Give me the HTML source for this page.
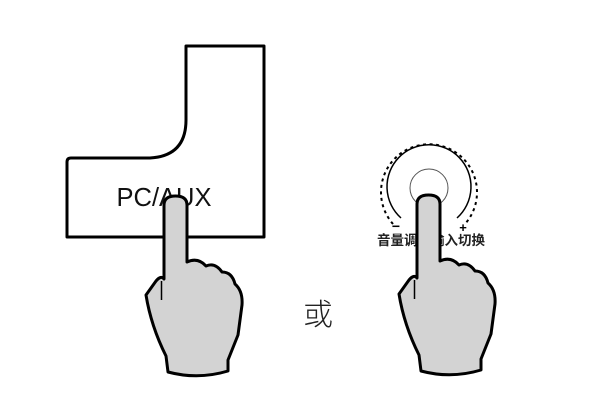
<!DOCTYPE html>
<html><head><meta charset="utf-8"><style>
html,body{margin:0;padding:0;background:#fff;width:600px;height:418px;overflow:hidden}
</style></head><body>
<svg width="600" height="418" viewBox="0 0 600 418" xmlns="http://www.w3.org/2000/svg">
<defs>
<g id="hand">
<path d="M164,205 Q164,196 175.5,196 Q187,196 187,205 L187,262 Q198,257 206,266 Q215,262 222,272 Q232,272 235,284 Q243,291 242,305 L238,335 Q232,350 228,360 L228,371 Q198,380 168,372 L166,356 Q151,326 146,295 L156,281 Q161,275 164,279 Z" fill="#d3d3d3" stroke="#000" stroke-width="3" stroke-linejoin="round"/>
<path d="M161.5,281 L161.5,300" stroke="#000" stroke-width="1.5"/>
</g>
</defs>
<path d="M186,46 L264,46 L264,237 L67,237 L67,162 Q67,158 71,158 L150,158 Q186,156 186,120 Z" fill="#fff" stroke="#000" stroke-width="3" stroke-linejoin="round"/>
<text x="164" y="206" font-family="Liberation Sans, sans-serif" font-size="25.5" text-anchor="middle" fill="#111">PC/AUX</text>
<use href="#hand"/>
<text x="318" y="325" font-family="Liberation Sans, 'Noto Sans CJK SC', sans-serif" font-size="30" font-weight="300" text-anchor="middle" fill="#222">或</text>
<path d="M401,218 A42,42 0 1 1 457,218" fill="none" stroke="#000" stroke-width="1.5"/>
<path d="M393,224 A48,48 0 1 1 465,224" fill="none" stroke="#000" stroke-width="2" stroke-dasharray="3,3.5"/>
<circle cx="429" cy="188" r="19" fill="none" stroke="#555" stroke-width="1"/>
<text x="396" y="231" font-family="Liberation Sans, sans-serif" font-size="14" font-weight="bold" text-anchor="middle">−</text>
<text x="463" y="232" font-family="Liberation Sans, sans-serif" font-size="13" font-weight="bold" text-anchor="middle">+</text>
<text x="431" y="245" font-family="Liberation Sans, 'Noto Sans CJK SC', sans-serif" font-size="13.5" font-weight="bold" text-anchor="middle" fill="#222">音量调节输入切换</text>
<use href="#hand" transform="translate(253,-1)"/>
</svg>
</body></html>
